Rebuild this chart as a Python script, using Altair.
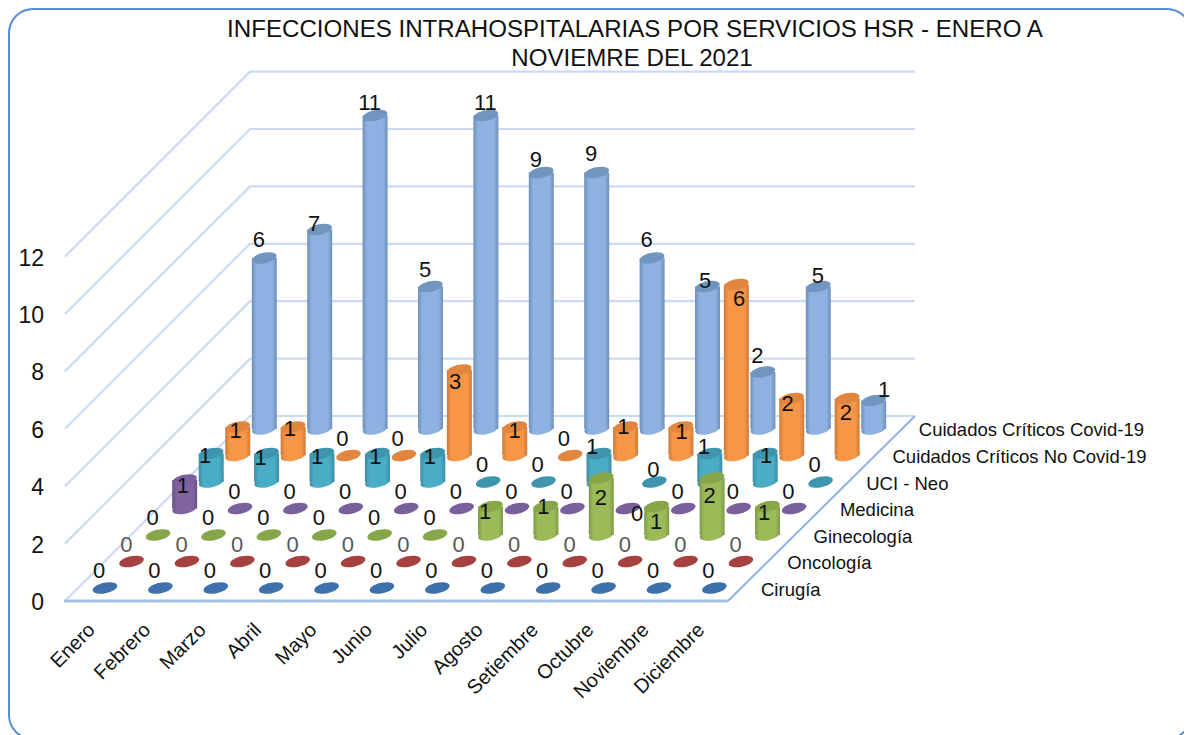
import altair as alt
import pandas as pd

MONTHS = ["Enero", "Febrero", "Marzo", "Abril", "Mayo", "Junio", "Julio", "Agosto",
          "Setiembre", "Octubre", "Noviembre", "Diciembre"]
SERIES = ["Cirugía", "Oncología", "Ginecología", "Medicina", "UCI - Neo",
          "Cuidados Críticos No Covid-19", "Cuidados Críticos Covid-19"]

CIRUGIA = [0, 0, 0, 0, 0, 0, 0, 0, 0, 0, 0, 0]
ONCOLOGIA = [0, 0, 0, 0, 0, 0, 0, 0, 0, 0, 0, 0]
GINECOLOGIA = [0, 0, 0, 0, 0, 0, 1, 1, 2, 1, 2, 1]
MEDICINA = [1, 0, 0, 0, 0, 0, 0, 0, 0, 0, 0, 0]
UCI_NEO = [1, 1, 1, 1, 1, 0, 0, 1, 0, 1, 1, 0]
NO_COVID = [1, 1, 0, 0, 3, 1, 0, 1, 1, 6, 2, 2]
COVID = [6, 7, 11, 5, 11, 9, 9, 6, 5, 2, 5, 1]
VALUES = [CIRUGIA, ONCOLOGIA, GINECOLOGIA, MEDICINA, UCI_NEO, NO_COVID, COVID]
AXIS_TICKS = [0, 2, 4, 6, 8, 10, 12]

TITLE_LINES = ["INFECCIONES INTRAHOSPITALARIAS POR SERVICIOS HSR - ENERO A",
               "NOVIEMRE DEL 2021"]

# ---- styling, one entry per series
BODY = ["#3E71AC", "#A5423F", "#9BBB59", "#8064A2", "#4BACC6", "#F79646", "#8DB1E0"]
EDGE = ["#35609A", "#8C3836", "#7F9A48", "#695285", "#3A8CA3", "#CB7B3A", "#6F8FB8"]
TOP = ["#3E71AC", "#A5423F", "#86A648", "#7A5F9D", "#3E95AD", "#E2853E", "#7096C0"]
LABEL_COLOR = ["#111111", "#595959", "#111111", "#111111", "#111111", "#111111", "#111111"]

# ---- how Excel's 3-D projection lays the chart out on the page
MONTH_DX = 55.4
ROW_DX, ROW_DY = 26.55, -26.5
LABEL_ROW_DX = 26.3
UNIT = 28.5
ROW0_X, ROW0_Y = 105, 588
BAR_HALF = 12.5

# label offsets from the top of each cylinder, Excel places them unevenly
Z = (-5, -17)
NUDGE = [
    [(-6, -17)] * 12,
    [Z] * 12,
    [Z] * 6 + [(-5, 5), (-2, 0), (0, 20), (0, 15), (-2, 18), (-3, 6)],
    [(-1, 6)] + [Z] * 7 + [(10, 5)] + [Z] * 3,
    [(-5, 2), (-5, 4), (-4, 3), (-1, 3), (-2, 3), Z, Z, (-6, -7), (0, -12), (-5, -7), (2, 2), Z],
    [(-1, 4), (-2, 2), Z, Z, (-3, 12), (1, 4), Z, (-1, 0), (2, 5), (4, 14), (-3, 5), (0, 14)],
    [(-4, -18), (-4, -6), (-4, -13), (-4, -17), (1, -13), (-4, -13), (-4, -19), (-4, -18),
     (-1, -6), (-4, -16), (1, -11), (12, -11)],
]

rows = []
for s, (name, vals) in enumerate(zip(SERIES, VALUES)):
    for m, v in enumerate(vals):
        cx = ROW0_X + m * MONTH_DX + s * ROW_DX
        base = ROW0_Y + s * ROW_DY
        top = base - v * UNIT
        dx, dy = NUDGE[s][m]
        rows.append(dict(series=s, value=v, cx=cx, xl=cx - BAR_HALF, xr=cx + BAR_HALF,
                         base=base, top=top,
                         lx=ROW0_X + m * MONTH_DX + s * LABEL_ROW_DX + dx, ly=top + dy))
df = pd.DataFrame(rows)

SX = alt.Scale(domain=[8, 1184], nice=False, zero=False)
SY = alt.Scale(domain=[735, 8], nice=False, zero=False)


def X(f):
    return alt.X(f, type="quantitative", scale=SX, axis=None)


def Y(f):
    return alt.Y(f, type="quantitative", scale=SY, axis=None)


ELLIPSE = "M-0.98,0.2A1,0.42,-12,1,1,0.98,-0.2A1,0.42,-12,1,1,-0.98,0.2Z"

layers = []

# frame
frame = pd.DataFrame([dict(a=9, b=1191, c=9, d=739)])
layers.append(alt.Chart(frame).mark_rect(fill="white", stroke="#558ED5", strokeWidth=2, cornerRadius=24)
              .encode(x=X("a"), x2="b", y=Y("c"), y2="d"))

# walls: gridlines run from the front edge to the back wall
FX0, FX1, FX2 = 65, 250, 915
FY0, FY1 = 601, 416
GRID_UNIT = 28.7
grid = []
for t in AXIS_TICKS:
    grid += [dict(t=t, o=0, x=FX0, y=FY0 - t * GRID_UNIT),
             dict(t=t, o=1, x=FX1, y=FY1 - t * GRID_UNIT),
             dict(t=t, o=2, x=FX2, y=FY1 - t * GRID_UNIT)]
layers.append(alt.Chart(pd.DataFrame(grid)).mark_line(color="#C9DBF2", strokeWidth=2.2)
              .encode(x=X("x"), y=Y("y"), detail="t:N", order="o:Q"))

# floor edges
front = pd.DataFrame([dict(x=FX0 - 1, y=FY0), dict(x=728, y=FY0)])
layers.append(alt.Chart(front).mark_line(color="#A3C2E8", strokeWidth=3.2).encode(x=X("x"), y=Y("y")))
side = pd.DataFrame([dict(x=728, y=FY0), dict(x=FX2, y=FY1)])
layers.append(alt.Chart(side).mark_line(color="#8DB3E2", strokeWidth=2).encode(x=X("x"), y=Y("y")))

# cylinders, back row first
for s in range(len(SERIES) - 1, -1, -1):
    d = df[df.series == s]
    bars = d[d.value > 0]
    grad = alt.LinearGradient(gradient="linear", x1=0, x2=1, y1=0, y2=0,
                              stops=[alt.GradientStop(offset=0, color=EDGE[s]),
                                     alt.GradientStop(offset=0.18, color=BODY[s]),
                                     alt.GradientStop(offset=0.82, color=BODY[s]),
                                     alt.GradientStop(offset=1, color=EDGE[s])])
    if len(bars):
        layers.append(alt.Chart(bars).mark_point(shape=ELLIPSE, size=625, filled=True, fill=grad, opacity=1)
                      .encode(x=X("cx"), y=Y("base")))
        layers.append(alt.Chart(bars).mark_rect(fill=grad)
                      .encode(x=X("xl"), x2="xr", y=Y("top"), y2="base"))
    layers.append(alt.Chart(d).mark_point(shape=ELLIPSE, size=625, filled=True, fill=TOP[s], opacity=1)
                  .encode(x=X("cx"), y=Y("top")))

FONT = "Liberation Sans"

# value labels
for s in range(len(SERIES)):
    d = df[df.series == s]
    layers.append(alt.Chart(d).mark_text(font=FONT, fontSize=22, color=LABEL_COLOR[s], baseline="middle")
                  .encode(x=X("lx"), y=Y("ly"), text="value:Q"))

# value axis labels
axis_df = pd.DataFrame([dict(t=t, x=44, y=FY0 + 2 - t * GRID_UNIT) for t in AXIS_TICKS])
layers.append(alt.Chart(axis_df).mark_text(font=FONT, fontSize=23, color="#111111", align="right", baseline="middle")
              .encode(x=X("x"), y=Y("y"), text="t:Q"))

# month labels
month_df = pd.DataFrame([dict(t=n, x=92 + i * MONTH_DX, y=627) for i, n in enumerate(MONTHS)])
layers.append(alt.Chart(month_df).mark_text(font=FONT, fontSize=20, color="#111111", align="right",
                                            baseline="middle", angle=315)
              .encode(x=X("x"), y=Y("y"), text="t:N"))

# series labels
series_df = pd.DataFrame([dict(t=n, x=761 + i * 26.3, y=590 - i * 26.6) for i, n in enumerate(SERIES)])
layers.append(alt.Chart(series_df).mark_text(font=FONT, fontSize=18.5, color="#111111", align="left", baseline="middle")
              .encode(x=X("x"), y=Y("y"), text="t:N"))

# title
title_df = pd.DataFrame([dict(t=n, x=635 - 3 * i, y=30 + i * 28.5) for i, n in enumerate(TITLE_LINES)])
layers.append(alt.Chart(title_df).mark_text(font=FONT, fontSize=24.1, color="#111111", baseline="middle")
              .encode(x=X("x"), y=Y("y"), text="t:N"))

chart = alt.layer(*layers).properties(
    width=1176, height=727, padding=0,
    autosize=alt.AutoSizeParams(type="none"),
    background="white",
).configure_view(stroke=None)

chart.save("out.html", embed_options={"renderer": "svg", "actions": False})
